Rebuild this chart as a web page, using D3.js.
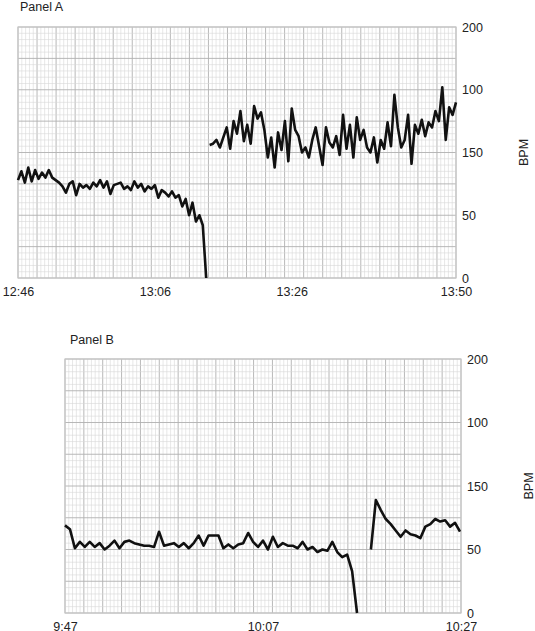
<!DOCTYPE html>
<html><head><meta charset="utf-8">
<script src="https://cdn.jsdelivr.net/npm/d3@7"></script>
<style>body{margin:0;background:#fff}text{font-family:"Liberation Sans",Arial,sans-serif;fill:#222}</style>
</head><body><svg id="c" width="535" height="631"></svg>
<script>
// Tick values and the (as printed) tick labels
const yTickValues = [0, 50, 100, 150, 200];
const yTickLabels = ["0", "50", "150", "100", "200"];
// Panel A: minutes after 12:46
const xTicksA = [0, 20, 40, 64];
const xLabelsA = ["12:46", "13:06", "13:26", "13:50"];
const a1Start = 0, a1Step = 0.5;
const a1Values = [78,85,76,88,77,86,79,84,80,86,80,78,76,73,68,75,77,66,75,72,74,71,76,73,78,72,77,67,74,75,76,71,73,70,77,72,75,69,73,71,74,64,70,68,65,69,64,66,57,63,50,60,45,50,42,0];
const a2Start = 28, a2Step = 0.5;
const a2Values = [106,107,110,104,112,120,103,125,115,133,109,122,107,137,127,132,118,96,112,88,116,102,125,93,135,118,113,100,104,96,110,120,105,90,120,108,104,113,98,130,103,122,96,128,110,118,104,100,112,92,110,103,124,105,146,120,104,110,130,91,122,115,126,113,124,120,133,125,152,110,136,130,140];
// Panel B: minutes after 9:47
const xTicksB = [0, 20, 40];
const xLabelsB = ["9:47", "10:07", "10:27"];
const b1Start = 0, b1Step = 0.5;
const b1Values = [69,66,51,56,52,56,52,55,50,53,57,51,56,57,55,54,53,53,52,64,53,54,55,52,55,51,55,61,53,61,61,61,51,54,51,54,55,63,56,52,57,50,60,52,55,53,53,51,56,50,52,48,50,49,56,48,44,46,33,0];
const b2Start = 30.9, b2Step = 0.5;
const b2Values = [50,89,81,74,70,65,60,65,62,61,59,68,70,74,72,73,68,71,64];

const svg = d3.select("#c");
function toPts(start, step, vals){ return vals.map((v,i)=>({t:start+i*step, v})); }

function panel(cfg){
  const g = svg.append("g");
  const x = d3.scaleLinear().domain(cfg.domain).range([cfg.x0, cfg.x1]);
  const y = d3.scaleLinear().domain([0,200]).range([cfg.y1, cfg.y0]);
  const W = cfg.x1-cfg.x0, H = cfg.y1-cfg.y0;
  const nMin = cfg.majX*5;
  for(let i=0;i<=nMin;i++){
    const xx = cfg.x0 + W*i/nMin;
    g.append("line").attr("x1",xx).attr("x2",xx).attr("y1",cfg.y0).attr("y2",cfg.y1)
     .attr("stroke", i%5===0 ? "#b0b0b0" : "#d6d6d6").attr("stroke-width", i%5===0?0.9:0.6);
  }
  for(let i=0;i<=40;i++){
    const yy = cfg.y0 + H*i/40;
    g.append("line").attr("x1",cfg.x0).attr("x2",cfg.x1).attr("y1",yy).attr("y2",yy)
     .attr("stroke", i%5===0 ? "#b0b0b0" : "#d6d6d6").attr("stroke-width", i%5===0?0.9:0.6);
  }
  g.append("rect").attr("x",cfg.x0).attr("y",cfg.y0).attr("width",W).attr("height",H)
   .attr("fill","none").attr("stroke","#c8c8c8").attr("stroke-width",1.2);
  const line = d3.line().x(d=>x(d.t)).y(d=>y(d.v));
  cfg.series.forEach(s=>g.append("path").datum(s).attr("d",line).attr("fill","none")
    .attr("stroke","#111").attr("stroke-width",2.6).attr("stroke-linejoin","round"));
  const ya = d3.axisRight(y).tickValues(yTickValues).tickSize(0).tickPadding(6)
    .tickFormat((d,i)=>yTickLabels[i]);
  const yg = g.append("g").attr("transform",`translate(${cfg.x1},0)`).call(ya);
  yg.select(".domain").remove();
  yg.selectAll("text").attr("font-size",12.5).attr("fill","#222");
  const xa = d3.axisBottom(x).tickValues(cfg.xTicks).tickSize(0).tickPadding(9)
    .tickFormat((d,i)=>cfg.xLabels[i]);
  const xg = g.append("g").attr("transform",`translate(0,${cfg.y1})`).call(xa);
  xg.select(".domain").remove();
  xg.selectAll("text").attr("font-size",12.5).attr("fill","#222");
  g.append("text").attr("transform",`translate(${cfg.x1+72},${(cfg.y0+cfg.y1)/2}) rotate(-90)`)
   .attr("text-anchor","middle").attr("font-size",12.5).text("BPM");
  g.append("text").attr("x",cfg.titleX).attr("y",cfg.titleY).attr("font-size",12.5).text(cfg.title);
}

panel({x0:18,x1:456,y0:27,y1:278,domain:[0,64],majX:23,xTicks:xTicksA,xLabels:xLabelsA,
  series:[toPts(a1Start,a1Step,a1Values),toPts(a2Start,a2Step,a2Values)],title:"Panel A",titleX:20,titleY:11});
panel({x0:65,x1:461,y0:359,y1:613,domain:[0,40],majX:21,xTicks:xTicksB,xLabels:xLabelsB,
  series:[toPts(b1Start,b1Step,b1Values),toPts(b2Start,b2Step,b2Values)],title:"Panel B",titleX:70,titleY:344});
</script></body></html>
